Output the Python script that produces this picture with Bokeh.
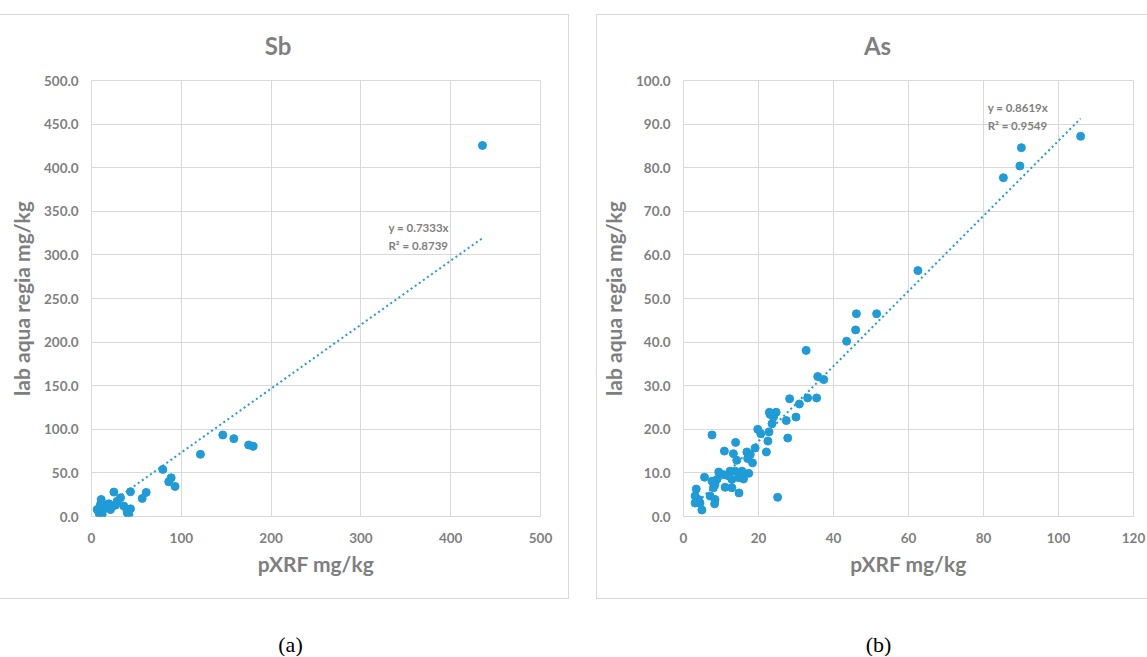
from bokeh.plotting import figure
from bokeh.layouts import column, row
from bokeh.models import (Range1d, SingleIntervalTicker, NumeralTickFormatter,
                          Label, ColumnDataSource)
from bokeh.embed import file_html
from bokeh.resources import INLINE

# ---------------- data ----------------
sb_x = [435.4, 146.2, 158.5, 175.0, 180.0, 121.3, 79.4, 88.7, 86.0, 93.1,
        60.9, 56.5, 43.4, 24.9, 32.3, 10.8, 10.0, 19.3, 23.0, 21.2,
        28.6, 36.0, 43.4, 41.6, 6.3, 8.2, 10.0, 11.9, 15.6, 39.7,
        26.7, 9.0, 12.0, 14.0, 17.0, 11.0, 40.0]
sb_y = [425.5, 93.5, 89.3, 82.0, 80.5, 71.3, 54.0, 44.4, 39.8, 34.5,
        27.6, 20.7, 28.4, 28.0, 21.5, 19.5, 13.8, 14.6, 11.9, 8.0,
        17.6, 11.9, 8.8, 2.3, 8.0, 4.2, 0.4, 2.3, 11.9, 6.1,
        13.0, 10.0, 6.0, 9.0, 12.0, 16.0, 4.0]

as_x = [105.9, 90.1, 89.7, 85.3, 62.5, 46.1, 51.5, 45.9, 43.5, 32.7,
        35.8, 37.4, 28.3, 30.9, 33.1, 35.5, 30.0, 27.4, 23.1, 22.9,
        24.7, 24.0, 23.6, 19.8, 20.6, 22.8, 19.1, 22.5, 22.1, 27.8,
        7.6, 13.9, 10.9, 13.3, 16.9, 17.8, 17.1, 18.4, 14.2, 9.4,
        12.4, 13.8, 15.6, 17.4, 10.7, 12.0, 14.7, 16.0, 12.9, 8.9,
        5.6, 8.4, 8.0, 11.1, 12.9, 14.8, 3.4, 3.1, 4.0, 3.1,
        4.9, 7.1, 8.4, 8.3, 25.1, 4.4, 7.6]
as_y = [87.2, 84.6, 80.4, 77.7, 56.4, 46.5, 46.5, 42.8, 40.2, 38.1,
        32.1, 31.4, 27.0, 25.8, 27.2, 27.2, 22.8, 22.0, 23.4, 23.9,
        23.9, 22.8, 21.3, 20.0, 19.0, 19.4, 15.7, 17.3, 14.8, 18.0,
        18.7, 17.0, 15.0, 14.4, 14.8, 14.2, 13.3, 12.3, 12.9, 10.2,
        10.4, 10.4, 10.4, 9.9, 9.6, 9.3, 8.9, 8.6, 8.5, 8.5,
        9.0, 7.3, 6.6, 6.7, 6.6, 5.4, 6.3, 4.7, 3.9, 3.1,
        1.5, 4.7, 3.9, 2.9, 4.4, 3.1, 8.1]

sb_slope, sb_r2 = 0.7333, 0.8739
as_slope, as_r2 = 0.8619, 0.9549

sb_x_max, sb_x_step = 500, 100
sb_y_max, sb_y_step = 500, 50
as_x_max, as_x_step = 120, 20
as_y_max, as_y_step = 100, 10

titles = ["Sb", "As"]
captions = ["(a)", "(b)"]
x_title = "pXRF mg/kg"
y_title = "lab aqua regia mg/kg"

# ---------------- style ----------------
FONT = "Lato"
GRAY = "#7f7f7f"
BLUE = "#1f9bd7"
GRID = "#d9d9d9"
BORDER = "1px solid #d9d9d9"
TITLE_H = 55


def text_strip(width, height, items, font, size, color, style="normal",
               x_units="data"):
    """A bare figure used only to hold text labels (titles / captions)."""
    f = figure(width=width, height=height, x_range=Range1d(0, width),
               y_range=Range1d(0, height), min_border=0,
               toolbar_location=None, output_backend="svg")
    f.xaxis.visible = False
    f.yaxis.visible = False
    f.grid.visible = False
    f.outline_line_color = None
    for txt, cx, cy in items:
        f.add_layout(Label(x=cx, y=cy, x_units=x_units, text=txt,
                           text_font=font, text_font_size=size,
                           text_font_style=style, text_color=color,
                           text_align="center", text_baseline="middle"))
    return f


def make_panel(title, xs, ys, slope, r2, xmax, xstep, ymax, ystep,
               mbl, mbr, fw, title_x, eq_pos, borders, margin):
    p = figure(frame_width=fw, frame_height=436,
               min_border_left=mbl, min_border_right=mbr,
               min_border_top=10, min_border_bottom=82,
               x_range=Range1d(0, xmax), y_range=Range1d(0, ymax),
               toolbar_location=None, output_backend="svg",
               background_fill_color="white", border_fill_color="white")

    p.outline_line_color = GRID
    p.xaxis.ticker = SingleIntervalTicker(interval=xstep)
    p.yaxis.ticker = SingleIntervalTicker(interval=ystep)
    p.xaxis.formatter = NumeralTickFormatter(format="0")
    p.yaxis.formatter = NumeralTickFormatter(format="0.0")
    for ax in (p.xaxis[0], p.yaxis[0]):
        ax.axis_line_color = None
        ax.major_tick_line_color = None
        ax.minor_tick_line_color = None
        ax.major_tick_out = 0
        ax.major_tick_in = 0
        ax.major_label_text_font = FONT
        ax.major_label_text_font_size = "13.5px"
        ax.major_label_text_font_style = "bold"
        ax.major_label_text_color = GRAY
        ax.axis_label_text_font = FONT
        ax.axis_label_text_font_size = "21px"
        ax.axis_label_text_font_style = "bold"
        ax.axis_label_text_color = GRAY
    p.xaxis.major_label_standoff = 12
    p.xaxis.axis_label_standoff = 5
    p.yaxis.major_label_standoff = 9
    p.yaxis.axis_label_standoff = 7
    p.xaxis.axis_label = x_title
    p.yaxis.axis_label = y_title
    p.grid.grid_line_color = GRID
    p.grid.grid_line_width = 1

    src = ColumnDataSource(dict(x=xs, y=ys))
    p.scatter("x", "y", source=src, size=8, fill_color=BLUE, line_color=BLUE)

    x0, x1 = min(xs), max(xs)
    p.line([x0, x1], [slope * x0, slope * x1], line_color=BLUE,
           line_width=2, line_dash="2 3")

    ex, ey1, ey2 = eq_pos
    for txt, yy in ((f"y = {slope:.4f}x", ey1), (f"R² = {r2:.4f}", ey2)):
        p.add_layout(Label(x=ex, y=yy, text=txt, text_font=FONT,
                           text_font_size="11.5px", text_font_style="bold",
                           text_color=GRAY, text_align="left",
                           text_baseline="middle"))

    width = mbl + fw + mbr
    # the title strip's frame is aligned with the plot frame by the column,
    # so its screen x is measured from the plot frame's left edge
    t = text_strip(width, TITLE_H, [(title, title_x - mbl, 25)], FONT, "24px",
                   GRAY, "bold", x_units="screen")
    return column(t, p, styles=borders, margin=margin)


fa = make_panel(titles[0], sb_x, sb_y, sb_slope, sb_r2,
                sb_x_max, sb_x_step, sb_y_max, sb_y_step,
                mbl=91, mbr=28, fw=449, title_x=277.5,
                eq_pos=(330.7, 331.8, 310.8),
                borders={"border-top": BORDER, "border-right": BORDER,
                         "border-bottom": BORDER},
                margin=(14, 0, 0, 0))
fb = make_panel(titles[1], as_x, as_y, as_slope, as_r2,
                as_x_max, as_x_step, as_y_max, as_y_step,
                mbl=86, mbr=14, fw=450, title_x=280,
                eq_pos=(81.1, 93.9, 89.7),
                borders={"border-top": BORDER, "border-left": BORDER,
                         "border-bottom": BORDER},
                margin=(14, 0, 0, 27))

cap = text_strip(1147, 57, [(captions[0], 290, 12), (captions[1], 878, 12)],
                 "Liberation Serif", "22px", "black")

layout = column(row(fa, fb), cap)

open("out.html", "w").write(file_html(layout, INLINE))
